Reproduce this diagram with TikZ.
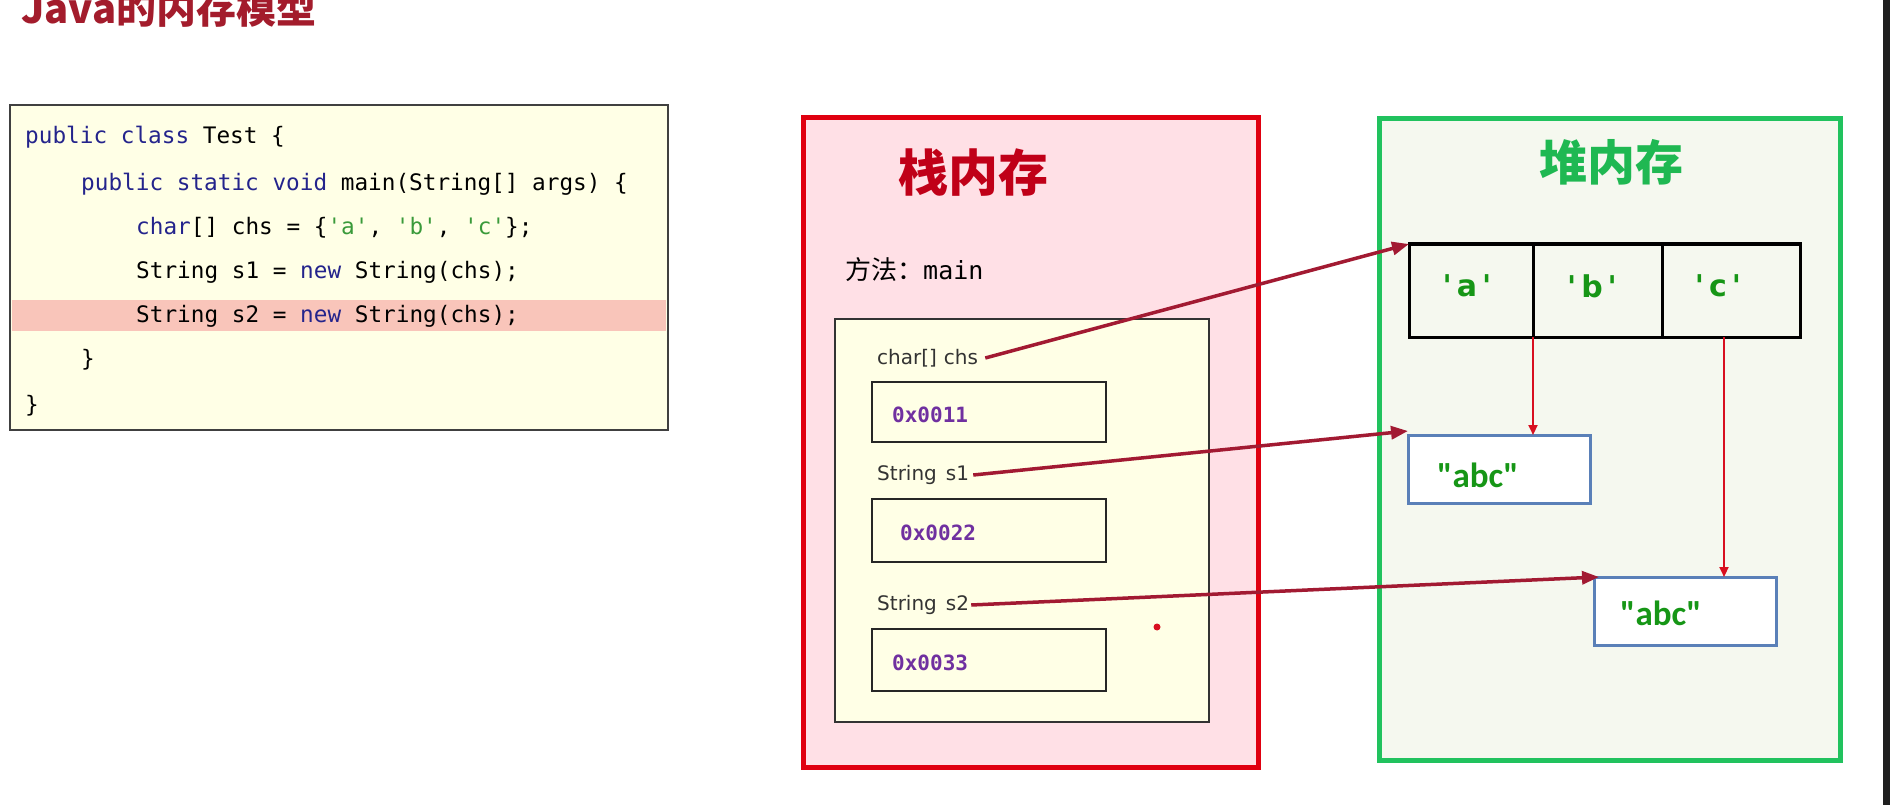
\documentclass[tikz,border=0pt]{standalone}
\usepackage{fontspec}
\setmainfont{DejaVu Sans}
\newfontfamily\cjk{Noto Sans CJK SC}
\newfontfamily\mono{DejaVu Sans Mono}[Ligatures=TeXOff]
\newfontfamily\carlitofont{Carlito}[Ligatures=TeXOff]
\newfontfamily\dvs{DejaVu Sans}[Ligatures=TeXOff]
\usetikzlibrary{arrows.meta}
\definecolor{titlered}{RGB}{163,28,44}
\definecolor{kw}{RGB}{36,36,140}
\definecolor{strgreen}{RGB}{58,154,58}
\definecolor{codebg}{RGB}{255,255,230}
\definecolor{hl}{RGB}{249,197,186}
\definecolor{stackred}{RGB}{192,0,24}
\definecolor{stackborder}{RGB}{224,0,16}
\definecolor{stackbg}{RGB}{255,224,230}
\definecolor{heapgreen}{RGB}{33,194,94}
\definecolor{heaptitle}{RGB}{31,184,82}
\definecolor{heapbg}{RGB}{245,248,239}
\definecolor{valgreen}{RGB}{22,150,22}
\definecolor{boxblue}{RGB}{90,128,184}
\definecolor{arrowred}{RGB}{162,26,50}
\definecolor{vred}{RGB}{216,16,32}
\definecolor{hexpurple}{RGB}{112,48,160}
\definecolor{labelgray}{RGB}{51,51,51}
\tikzset{
  codeline/.style={anchor=west, inner sep=0pt, font=\mono\fontsize{22.7}{27}\selectfont},
  plainbox/.style={anchor=north west, inner sep=0pt, outer sep=0pt},
  hexbox/.style={plainbox, draw=black!85, line width=2pt, fill=codebg, minimum width=234pt},
  hextext/.style={anchor=west, inner sep=0pt, text=hexpurple, font=\mono\bfseries\fontsize{21}{25}\selectfont},
  varlabel/.style={anchor=west, inner xsep=0pt, inner ysep=0pt, text=labelgray, font=\dvs\fontsize{20}{24}\selectfont},
  cellbox/.style={plainbox, draw=black, line width=3pt, fill=heapbg, minimum height=93pt},
  celltext/.style={inner sep=0pt, text=valgreen, font=\dvs\bfseries\fontsize{30}{34}\selectfont},
  strbox/.style={plainbox, draw=boxblue, line width=3pt, fill=white, minimum width=182pt, minimum height=68pt},
  strtext/.style={anchor=west, inner sep=0pt, text=valgreen, font=\carlitofont\bfseries\fontsize{35}{40}\selectfont},
  refarrow/.style={draw=arrowred, line width=3.5pt, -{Triangle[length=17pt,width=13pt]}},
  vertarrow/.style={draw=vred, line width=2pt, -{Triangle[length=10pt,width=9pt]}}
}
\begin{document}
\begin{tikzpicture}[x=1pt,y=-1pt]
\useasboundingbox (0,0) rectangle (1890,805);
\fill[white] (0,0) rectangle (1890,805);
\fill[black!88] (1883,0) rectangle (1890,805);

% title
\node[anchor=base west, inner sep=0pt, text=titlered, font=\cjk\bfseries\fontsize{40}{44}\selectfont] (title) at (21,24) {Java的内存模型};

% code box
\node[plainbox, draw=black!75, line width=2pt, fill=codebg, minimum width=658pt, minimum height=325pt] (code) at (10,105) {};
\fill[hl] (12,300) rectangle (666,331);
\node[codeline] (l1) at (25,137) {{\color{kw}public class} Test \{};
\node[codeline] (l2) at (81,184) {{\color{kw}public static void} main(String[] args) \{};
\node[codeline] (l3) at (136,228) {{\color{kw}char}[] chs = \{{\color{strgreen}'a'}, {\color{strgreen}'b'}, {\color{strgreen}'c'}\};};
\node[codeline] (l4) at (136,272) {String s1 = {\color{kw}new} String(chs);};
\node[codeline] (l5) at (136,316) {String s2 = {\color{kw}new} String(chs);};
\node[codeline] (l6) at (81,360) {\}};
\node[codeline] (l7) at (25,406) {\}};

% stack
\node[plainbox, draw=stackborder, line width=5pt, fill=stackbg, minimum width=455pt, minimum height=649pt] (stack) at (803,118) {};
\node[inner sep=0pt, text=stackred, font=\cjk\bfseries\fontsize{50}{56}\selectfont] (stacktitle) at (973,173) {栈内存};
\node[anchor=west, inner sep=0pt, font=\cjk\fontsize{26}{30}\selectfont] (method) at (845,270) {方法：{\mono\fontsize{25}{30}\selectfont main}};
\node[plainbox, draw=black!80, line width=1.5pt, fill=codebg, minimum width=374pt, minimum height=403pt] (frame) at (835,319) {};
\node[varlabel] (chs) at (877,358) {char[]\hspace{0.35em}chs};
\node[hexbox, minimum height=60pt] (h1) at (872,382) {};
\node[hextext] (h1t) at (892,415) {0x0011};
\node[varlabel] (s1) at (877,475) {String\hspace{0.45em}s1};
\node[hexbox, minimum height=63pt] (h2) at (872,499) {};
\node[hextext] (h2t) at (900,533) {0x0022};
\node[varlabel] (s2) at (877,605) {String\hspace{0.45em}s2};
\node[hexbox, minimum height=62pt] (h3) at (872,629) {};
\node[hextext] (h3t) at (892,663) {0x0033};
\fill[vred] (1157,627) circle (3.5pt);

% heap
\node[plainbox, draw=heapgreen, line width=5pt, fill=heapbg, minimum width=461pt, minimum height=641pt] (heap) at (1379,119) {};
\node[inner sep=0pt, text=heaptitle, font=\cjk\bfseries\fontsize{48}{54}\selectfont] (heaptitle) at (1611,162) {堆内存};
\node[cellbox, minimum width=124pt] (cellA) at (1409,244) {};
\node[cellbox, minimum width=129pt] (cellB) at (1533,244) {};
\node[cellbox, minimum width=138pt] (cellC) at (1662,244) {};
\node[celltext] (ta) at (1467,286) {'\,a\,'};
\node[celltext] (tb) at (1592,286) {'\,b\,'};
\node[celltext] (tc) at (1718,286) {'\,c\,'};
\node[strbox] (box1) at (1408,435) {};
\node[strtext] (abc1) at (1437,475) {"abc"};
\node[strbox] (box2) at (1594,577) {};
\node[strtext] (abc2) at (1620,613) {"abc"};

% connectors
\draw[refarrow] ([xshift=7pt]chs.east) -- (cellA.north west);
\draw[refarrow] ([xshift=4pt]s1.east) -- ([yshift=4pt]box1.north west);
\draw[refarrow] ([xshift=2pt]s2.east) -- ([xshift=5pt]box2.north west);
\draw[vertarrow] (cellA.south east) -- (cellA.south east |- box1.north);
\draw[vertarrow] ([xshift=62pt]cellC.south west) -- ([xshift=62pt]cellC.south west |- box2.north);
\end{tikzpicture}
\end{document}
